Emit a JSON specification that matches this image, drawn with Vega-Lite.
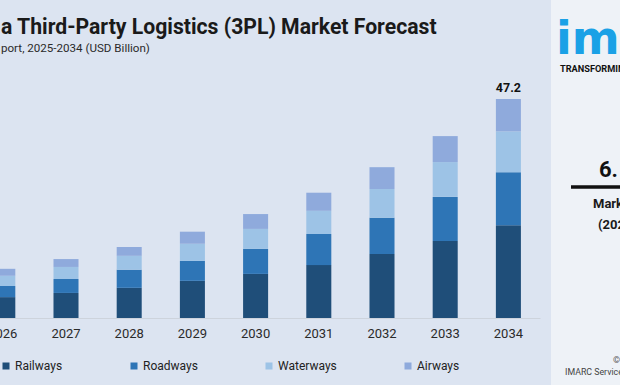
{
  "$schema": "https://vega.github.io/schema/vega-lite/v6.json",
  "background": "#dce4f1",
  "padding": {"left": -92, "top": 0, "right": 0, "bottom": 0},
  "spacing": 11,
  "bounds": "full",
  "resolve": {"scale": {"color": "independent"}, "legend": {"color": "independent"}},
  "config": {
    "view": {"stroke": null},
    "font": "Roboto",
    "legend": {"orient": "none", "legendX": 92, "legendY": 360, "direction": "horizontal", "title": null, "symbolType": "square", "symbolSize": 49, "symbolStrokeWidth": 0, "labelFontSize": 12, "labelColor": "#222222", "columnPadding": 65, "labelOffset": 3}
  },
  "hconcat": [
    {
      "width": 632,
      "height": 318,
      "title": {
        "text": "a Third-Party Logistics (3PL) Market Forecast",
        "subtitle": "port, 2025-2034 (USD Billion)",
        "anchor": "start",
        "frame": "group",
        "dx": 93,
        "offset": -55,
        "fontSize": 21.2,
        "fontWeight": "bold",
        "color": "#1a1a1a",
        "subtitleFontSize": 11.6,
        "subtitleColor": "#2a2a2a",
        "subtitlePadding": 5
      },
      "data": {
        "values": [
          {"year": "2026", "mode": "Railways", "value": 4.5},
          {"year": "2026", "mode": "Roadways", "value": 2.4},
          {"year": "2026", "mode": "Waterways", "value": 2.2},
          {"year": "2026", "mode": "Airways", "value": 1.5},
          {"year": "2027", "mode": "Railways", "value": 5.4},
          {"year": "2027", "mode": "Roadways", "value": 3.0},
          {"year": "2027", "mode": "Waterways", "value": 2.6},
          {"year": "2027", "mode": "Airways", "value": 1.7},
          {"year": "2028", "mode": "Railways", "value": 6.5},
          {"year": "2028", "mode": "Roadways", "value": 3.9},
          {"year": "2028", "mode": "Waterways", "value": 3.0},
          {"year": "2028", "mode": "Airways", "value": 1.9},
          {"year": "2029", "mode": "Railways", "value": 8.0},
          {"year": "2029", "mode": "Roadways", "value": 4.3},
          {"year": "2029", "mode": "Waterways", "value": 3.7},
          {"year": "2029", "mode": "Airways", "value": 2.6},
          {"year": "2030", "mode": "Railways", "value": 9.5},
          {"year": "2030", "mode": "Roadways", "value": 5.4},
          {"year": "2030", "mode": "Waterways", "value": 4.3},
          {"year": "2030", "mode": "Airways", "value": 3.2},
          {"year": "2031", "mode": "Railways", "value": 11.4},
          {"year": "2031", "mode": "Roadways", "value": 6.7},
          {"year": "2031", "mode": "Waterways", "value": 5.0},
          {"year": "2031", "mode": "Airways", "value": 3.9},
          {"year": "2032", "mode": "Railways", "value": 13.8},
          {"year": "2032", "mode": "Roadways", "value": 7.8},
          {"year": "2032", "mode": "Waterways", "value": 6.2},
          {"year": "2032", "mode": "Airways", "value": 4.7},
          {"year": "2033", "mode": "Railways", "value": 16.6},
          {"year": "2033", "mode": "Roadways", "value": 9.5},
          {"year": "2033", "mode": "Waterways", "value": 7.5},
          {"year": "2033", "mode": "Airways", "value": 5.6},
          {"year": "2034", "mode": "Railways", "value": 20.0},
          {"year": "2034", "mode": "Roadways", "value": 11.4},
          {"year": "2034", "mode": "Waterways", "value": 8.8},
          {"year": "2034", "mode": "Airways", "value": 7.0}
        ]
      },
      "encoding": {
        "x": {
          "field": "year",
          "type": "ordinal",
          "scale": {"domain": ["2025", "2026", "2027", "2028", "2029", "2030", "2031", "2032", "2033", "2034"], "paddingInner": 0.604, "paddingOuter": 0.302},
          "axis": {"title": null, "labelAngle": 0, "ticks": false, "labelPadding": 9, "labelFontSize": 13, "labelColor": "#2a2a2a", "domainColor": "#cdd3dc", "domainWidth": 1, "grid": false}
        }
      },
      "layer": [
        {
          "mark": {"type": "bar"},
          "encoding": {
            "y": {"field": "value", "type": "quantitative", "stack": "zero", "scale": {"domain": [0, 68.53], "nice": false}, "axis": null},
            "color": {
              "field": "mode",
              "type": "nominal",
              "sort": ["Railways", "Roadways", "Waterways", "Airways"],
              "scale": {"domain": ["Railways", "Roadways", "Waterways", "Airways"], "range": ["#1f4e79", "#2e75b6", "#9dc3e6", "#8faadc"]}
            },
            "order": {"field": "value", "type": "quantitative", "sort": "descending"}
          }
        },
        {
          "transform": [
            {"filter": "datum.year == '2034'"},
            {"aggregate": [{"op": "sum", "field": "value", "as": "total"}], "groupby": ["year"]}
          ],
          "mark": {"type": "text", "dy": -11, "fontSize": 12.5, "fontWeight": "bold", "color": "#111111"},
          "encoding": {
            "y": {"field": "total", "type": "quantitative"},
            "text": {"field": "total", "type": "quantitative", "format": ".1f"}
          }
        }
      ]
    },
    {
      "width": 69,
      "height": 385,
      "view": {"fill": "#eef2f7", "stroke": null},
      "data": {"values": [{"panel": 1}]},
      "encoding": {},
      "layer": [
        {
          "mark": {"type": "text", "text": "imarc", "align": "left", "baseline": "alphabetic", "font": "DejaVu Sans", "fontWeight": "bold", "fontSize": 46, "color": "#1aa1e6", "clip": true},
          "encoding": {
            "x": {"datum": 5, "type": "quantitative", "scale": {"domain": [0, 69], "nice": false, "zero": false}, "axis": null},
            "y": {"datum": 54, "type": "quantitative", "scale": {"domain": [0, 385], "reverse": true, "nice": false, "zero": false}, "axis": null}
          }
        },
        {
          "mark": {"type": "text", "text": "TRANSFORMING IDEAS INTO IMPACT", "align": "left", "baseline": "alphabetic", "fontWeight": "bold", "fontSize": 9.2, "color": "#111111", "clip": true},
          "encoding": {"x": {"datum": 9, "type": "quantitative"}, "y": {"datum": 72, "type": "quantitative"}}
        },
        {
          "mark": {"type": "text", "text": "6.", "align": "left", "baseline": "alphabetic", "fontWeight": "bold", "fontSize": 22, "color": "#111111", "clip": true},
          "encoding": {"x": {"datum": 48, "type": "quantitative"}, "y": {"datum": 177, "type": "quantitative"}}
        },
        {
          "mark": {"type": "rule", "strokeWidth": 3.5, "color": "#111111", "clip": true},
          "encoding": {"x": {"datum": 20, "type": "quantitative"}, "x2": {"datum": 69}, "y": {"datum": 187, "type": "quantitative"}}
        },
        {
          "mark": {"type": "text", "text": "Market Growth Rate", "align": "left", "baseline": "alphabetic", "fontWeight": "bold", "fontSize": 13, "color": "#1a1a1a", "clip": true},
          "encoding": {"x": {"datum": 42, "type": "quantitative"}, "y": {"datum": 208, "type": "quantitative"}}
        },
        {
          "mark": {"type": "text", "text": "(2025-2034)", "align": "left", "baseline": "alphabetic", "fontWeight": "bold", "fontSize": 13, "color": "#1a1a1a", "clip": true},
          "encoding": {"x": {"datum": 47, "type": "quantitative"}, "y": {"datum": 229, "type": "quantitative"}}
        },
        {
          "mark": {"type": "text", "text": "©", "align": "left", "baseline": "alphabetic", "fontSize": 9, "color": "#555555", "clip": true},
          "encoding": {"x": {"datum": 62, "type": "quantitative"}, "y": {"datum": 363, "type": "quantitative"}}
        },
        {
          "mark": {"type": "text", "text": "IMARC Services Pvt. Ltd.", "align": "left", "baseline": "alphabetic", "fontSize": 8.8, "color": "#444444", "clip": true},
          "encoding": {"x": {"datum": 14, "type": "quantitative"}, "y": {"datum": 375, "type": "quantitative"}}
        }
      ]
    }
  ]
}
